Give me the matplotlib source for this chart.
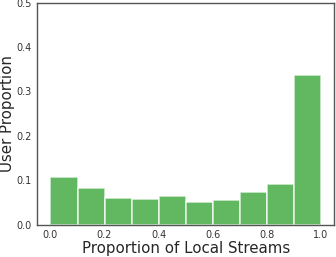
import matplotlib
matplotlib.use("Agg")
import matplotlib.pyplot as plt
import numpy as np

# histogram of local stream share per user
bin_edges = [0.0, 0.1, 0.2, 0.3, 0.4, 0.5, 0.6, 0.7, 0.8, 0.9, 1.0]
user_share = [0.108, 0.084, 0.060, 0.059, 0.064, 0.051, 0.056, 0.075, 0.092, 0.338]

fig, ax = plt.subplots(figsize=(3.36, 2.57), dpi=100)
ax.bar(bin_edges[:-1], user_share, width=np.diff(bin_edges), align="edge",
       color="tab:green", alpha=0.75, edgecolor="white", linewidth=1.2)

ax.set_xlim(-0.05, 1.05)
ax.set_ylim(0, 0.5)
ax.set_xticks([0.0, 0.2, 0.4, 0.6, 0.8, 1.0])
ax.set_yticks([0.0, 0.1, 0.2, 0.3, 0.4, 0.5])
ax.tick_params(labelsize=7, length=0, colors="#333333")
for s in ax.spines.values():
    s.set_color("#555555")
    s.set_linewidth(1.0)
ax.set_xlabel("Proportion of Local Streams", fontsize=10.8, color="#262626", labelpad=1)
ax.set_ylabel("User Proportion", fontsize=10.8, color="#262626")
ax.yaxis.set_label_coords(-0.075, 0.5)

fig.subplots_adjust(left=0.11, right=0.995, top=0.99, bottom=0.125)
fig.savefig("out.png", dpi=100)
